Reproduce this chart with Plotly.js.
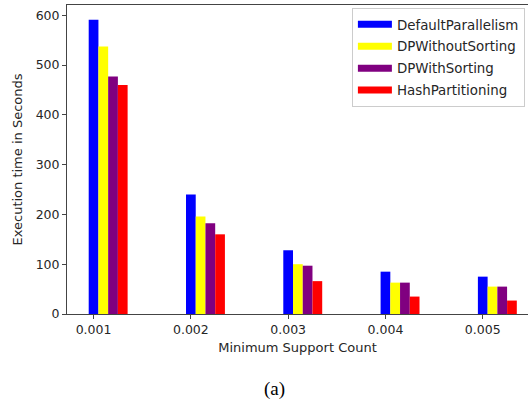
<!DOCTYPE html>
<html><head><meta charset="utf-8">
<script src="https://cdn.plot.ly/plotly-3.0.1.min.js"></script>
<style>html,body{margin:0;padding:0;background:#fff}</style>
</head><body><div id="chart" style="width:528px;height:403px"></div>
<script>
const categories = ['0.001', '0.002', '0.003', '0.004', '0.005'];
const seriesNames = ['DefaultParallelism', 'DPWithoutSorting', 'DPWithSorting', 'HashPartitioning'];
const seriesColors = ['#0000ff', '#ffff00', '#800080', '#ff0000'];
const defaultParallelism = [591, 240, 128, 85, 75];
const dpWithoutSorting = [537, 196, 100, 63, 55];
const dpWithSorting = [477, 182, 97, 63, 55];
const hashPartitioning = [460, 160, 66, 35, 27];
const seriesValues = [defaultParallelism, dpWithoutSorting, dpWithSorting, hashPartitioning];
const yTicks = [0, 100, 200, 300, 400, 500, 600];

const barWidth = 0.1;
const font = 'DejaVu Sans, sans-serif';
const textColor = '#262626';
const axisColor = '#444444';

const traces = [];
seriesValues.forEach((vals, k) => {
  traces.push({
    type: 'bar', x: categories, y: vals, name: seriesNames[k],
    width: barWidth, offset: -barWidth / 2 + k * barWidth,
    marker: {color: seriesColors[k], line: {width: 0}},
    showlegend: false, hoverinfo: 'skip'
  });
});
// legend entries drawn as wide patches
seriesNames.forEach((n, k) => {
  traces.push({
    type: 'scatter', mode: 'lines', x: [null], y: [null], name: n,
    line: {color: seriesColors[k], width: 7},
    legendgroup: 'g' + k, showlegend: true, hoverinfo: 'skip'
  });
});

const layout = {
  width: 528, height: 403,
  margin: {l: 67, r: 0, t: 5, b: 89},
  paper_bgcolor: '#ffffff', plot_bgcolor: '#ffffff',
  barmode: 'overlay',
  font: {family: font, size: 12.5, color: textColor},
  xaxis: {
    type: 'category', range: [-0.273, 4.465],
    showline: true, mirror: true, linecolor: axisColor, linewidth: 1,
    ticks: 'outside', ticklen: 4, tickcolor: axisColor, tickwidth: 1,
    showgrid: false, zeroline: false,
    tickfont: {family: font, size: 12.5, color: textColor},
    title: {text: 'Minimum Support Count', font: {family: font, size: 13, color: textColor}, standoff: 6}
  },
  yaxis: {
    range: [0, 620.5], tickvals: yTicks, ticktext: yTicks.map(String),
    showline: true, mirror: false, linecolor: axisColor, linewidth: 1,
    ticks: 'outside', ticklen: 4, tickcolor: axisColor, tickwidth: 1,
    showgrid: false, zeroline: false,
    tickfont: {family: font, size: 12.5, color: textColor},
    title: {text: 'Execution time in Seconds', font: {family: font, size: 13, color: textColor}, standoff: 10}
  },
  legend: {
    x: 0.618, y: 0.99, xanchor: 'left', yanchor: 'top',
    bgcolor: '#ffffff', bordercolor: '#cccccc', borderwidth: 1,
    font: {family: font, size: 13.4, color: textColor},
    traceorder: 'grouped', tracegroupgap: 1.5,
    itemwidth: 34, entrywidth: 185
  },
  annotations: [{
    text: '(a)', xref: 'paper', yref: 'paper', x: 0.45, y: -0.243,
    xanchor: 'center', yanchor: 'middle', showarrow: false,
    font: {family: 'Liberation Serif, Times New Roman, serif', size: 19, color: '#000000'}
  }]
};

Plotly.newPlot('chart', traces, layout, {displayModeBar: false, staticPlot: true});
</script>
</body></html>
